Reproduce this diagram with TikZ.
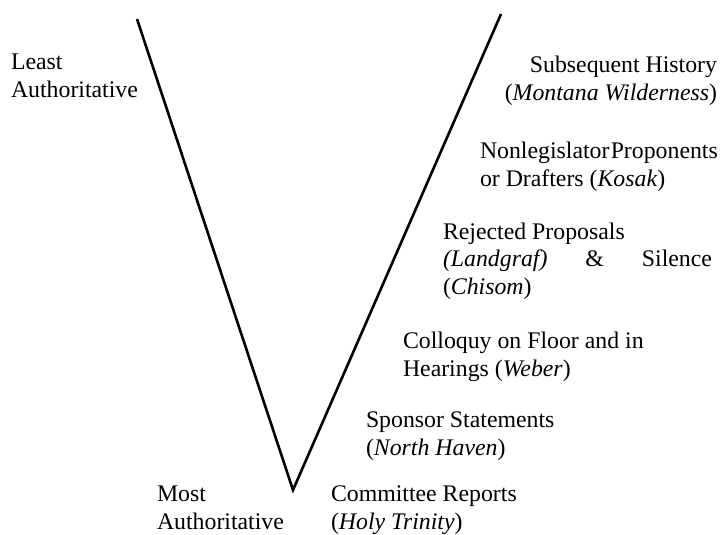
\documentclass[tikz,border=0pt]{standalone}
\usepackage{fontspec}
\setmainfont{Liberation Serif}
\begin{document}
\begin{tikzpicture}[x=1pt,y=-1pt,
  lbl/.style={inner sep=0pt,outer sep=0pt,align=left,anchor=base west,
    font=\fontsize{23.8}{27.5}\selectfont},
  vline/.style={line width=2.6pt,line join=miter,line cap=butt}]
\useasboundingbox (0,0) rectangle (720,535);
\coordinate (lt) at (137,19);
\coordinate (apex) at (293,490);
\coordinate (rt) at (501,14);
\draw[vline] (lt) -- (apex) -- (rt);
\node[lbl] (least) at (11,97) {Least\\Authoritative};
\node[lbl,align=right,anchor=base east] (subseq) at (717,100) {Subsequent History\\(\textit{Montana Wilderness})};
\node[lbl] (nonleg) at (480,186) {Nonlegislator\hspace{0.05em}Proponents\\or Drafters (\textit{Kosak})};
\node[lbl] (reject) at (443,294) {Rejected Proposals\\\hbox to 269pt{\textit{(Landgraf)}\hfill\&\hfill Silence}\\(\textit{Chisom})};
\node[lbl] (colloq) at (403,376) {Colloquy on Floor and in\\Hearings (\textit{Weber})};
\node[lbl] (sponsor) at (366,455) {Sponsor Statements\\(\textit{North Haven})};
\node[lbl] (most) at (157,529) {Most\\Authoritative};
\node[lbl] (committee) at (331,529) {Committee Reports\\(\textit{Holy Trinity})};
\end{tikzpicture}
\end{document}
